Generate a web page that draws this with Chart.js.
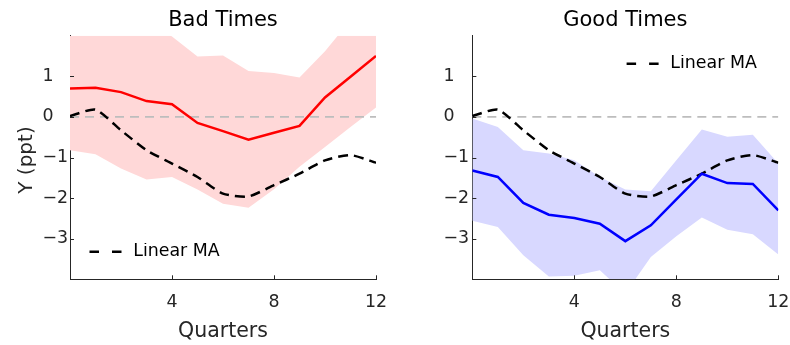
<!DOCTYPE html>
<html>
<head>
<meta charset="utf-8">
<script src="https://cdn.jsdelivr.net/npm/chart.js@4.4.1/dist/chart.umd.min.js"></script>
<style>
  html, body { margin: 0; padding: 0; background: #ffffff; }
  #wrap { position: relative; width: 790px; height: 345px; }
  canvas { position: absolute; top: 0; }
  #cBad { left: 0; }
  #cGood { left: 395px; }
</style>
</head>
<body>
<div id="wrap">
  <canvas id="cBad" width="395" height="345"></canvas>
  <canvas id="cGood" width="395" height="345"></canvas>
</div>
<script>
// Horizon (quarters after the shock)
const quarters = [0, 1, 2, 3, 4, 5, 6, 7, 8, 9, 10, 11, 12];

// Linear moving-average benchmark response (same in both regimes)
const linearMA = [0.02, 0.18, -0.33, -0.82, -1.15, -1.48, -1.89, -1.96, -1.68, -1.40, -1.07, -0.94, -1.13];

// Bad-times response and its confidence band
const badMean  = [0.70, 0.72, 0.61, 0.39, 0.31, -0.15, -0.35, -0.56, -0.39, -0.22, 0.48, 0.99, 1.50];
const badUpper = [2.60, 2.70, 2.60, 2.40, 1.98, 1.49, 1.51, 1.13, 1.08, 0.97, 1.62, 2.38, 2.90];
const badLower = [-0.82, -0.92, -1.27, -1.54, -1.48, -1.79, -2.14, -2.24, -1.78, -1.23, -0.74, -0.25, 0.23];

// Good-times response and its confidence band
const goodMean  = [-1.32, -1.48, -2.12, -2.41, -2.49, -2.63, -3.06, -2.67, -2.03, -1.40, -1.63, -1.65, -2.30];
const goodUpper = [-0.04, -0.25, -0.82, -0.90, -1.07, -1.48, -1.79, -1.83, -1.07, -0.31, -0.49, -0.44, -1.15];
const goodLower = [-2.56, -2.71, -3.41, -3.93, -3.91, -3.78, -4.35, -3.45, -2.94, -2.48, -2.78, -2.89, -3.39];

// Axis ticks
const xTickValues = [4, 8, 12];
const yTickValues = [-3, -2, -1, 0, 1];

const FONT = "'DejaVu Sans', 'Liberation Sans', Arial, sans-serif";
const INK = '#262626';
Chart.defaults.font.family = FONT;
Chart.defaults.color = INK;

const pts = vals => quarters.map((q, i) => ({ x: q, y: vals[i] }));
const signed = v => (v < 0 ? '\u2212' + Math.abs(v) : String(v));

// Short tick marks pointing into the plot, MATLAB style
const inwardTicks = {
  id: 'inwardTicks',
  afterDatasetsDraw(chart) {
    const { ctx, chartArea: a, scales: { x, y } } = chart;
    ctx.save();
    ctx.strokeStyle = INK;
    ctx.lineWidth = 1;
    ctx.beginPath();
    x.ticks.forEach(t => {
      const px = Math.round(x.getPixelForValue(t.value)) + 0.5;
      ctx.moveTo(px, a.bottom);
      ctx.lineTo(px, a.bottom - 4);
    });
    y.ticks.forEach(t => {
      const py = Math.round(y.getPixelForValue(t.value)) + 0.5;
      ctx.moveTo(a.left, py);
      ctx.lineTo(a.left + 4, py);
    });
    ctx.stroke();
    ctx.restore();
  }
};

// Places the legend box inside the plot area
const legendPlacement = {
  id: 'legendPlacement',
  afterLayout(chart, args, opts) {
    const lg = chart.legend;
    if (!lg) return;
    lg.left = opts.left;
    lg.top = opts.top;
    lg.right = opts.left + lg.width;
    lg.bottom = opts.top + lg.height;
  }
};

// Rotated y-axis title, kept clear of the left-aligned tick labels
const yAxisTitle = {
  id: 'yAxisTitle',
  afterDraw(chart, args, opts) {
    if (!opts.text) return;
    const { ctx, chartArea: a, scales: { y } } = chart;
    ctx.save();
    ctx.translate(y.left + opts.dx, (a.top + a.bottom) / 2 + opts.dy);
    ctx.rotate(-Math.PI / 2);
    ctx.font = `${opts.size}px ${FONT}`;
    ctx.fillStyle = INK;
    ctx.textAlign = 'center';
    ctx.textBaseline = 'alphabetic';
    ctx.fillText(opts.text, 0, 0);
    ctx.restore();
  }
};

function makePanel(canvas, cfg) {
  return new Chart(canvas, {
    type: 'line',
    data: {
      datasets: [
        {
          label: cfg.name, data: pts(cfg.mean),
          borderColor: cfg.lineColor, borderWidth: 2.5,
          pointRadius: 0, fill: false, tension: 0
        },
        {
          label: 'Linear MA', data: pts(linearMA),
          borderColor: '#000000', borderWidth: 2.5, borderDash: [10, 6],
          pointRadius: 0, fill: false, tension: 0.2, pointStyle: 'line'
        },
        {
          label: 'zero', data: pts(quarters.map(() => 0)),
          borderColor: '#bdbdbd', borderWidth: 1.8, borderDash: [9, 6],
          pointRadius: 0, fill: false
        },
        {
          label: 'upper', data: pts(cfg.upper),
          borderWidth: 0, borderColor: 'rgba(0,0,0,0)',
          backgroundColor: cfg.bandColor,
          pointRadius: 0, fill: '+1'
        },
        {
          label: 'lower', data: pts(cfg.lower),
          borderWidth: 0, borderColor: 'rgba(0,0,0,0)',
          pointRadius: 0, fill: false
        }
      ]
    },
    plugins: [inwardTicks, legendPlacement, yAxisTitle],
    options: {
      responsive: false,
      animation: false,
      events: [],
      devicePixelRatio: 1,
      layout: { padding: { left: cfg.padLeft, right: cfg.padRight, top: 0, bottom: 0 } },
      scales: {
        x: {
          type: 'linear', min: 0, max: 12,
          afterBuildTicks: s => { s.ticks = xTickValues.map(v => ({ value: v })); },
          afterFit: s => { s.height = 65.7; s.paddingLeft = 0; s.paddingRight = 0; },
          grid: { display: false, drawTicks: false },
          border: { display: true, color: INK, width: 1 },
          ticks: { font: { size: 17.4 }, color: INK, padding: 12.4, maxRotation: 0 },
          title: { display: true, text: 'Quarters', font: { size: 20.5 }, color: INK, padding: { top: 0, bottom: 1.0 } }
        },
        y: {
          type: 'linear', min: -4, max: 2,
          afterBuildTicks: s => { s.ticks = yTickValues.map(v => ({ value: v })); },
          afterFit: s => { s.width = cfg.axisWidth; s.paddingTop = 0; s.paddingBottom = 0; },
          grid: { display: false, drawTicks: false },
          border: { display: true, color: INK, width: 1 },
          ticks: { font: { size: 17.4 }, color: INK, crossAlign: 'far', padding: 0, callback: signed }
        }
      },
      plugins: {
        title: {
          display: true, text: cfg.title, fullSize: false,
          font: { size: 21, weight: 'normal' }, color: '#000000',
          padding: { top: 8.3, bottom: 2.2 }
        },
        legend: {
          display: true, position: 'chartArea', align: 'start',
          labels: {
            usePointStyle: true, pointStyleWidth: 38, padding: 0,
            font: { size: 17.4 }, color: '#000000',
            generateLabels(chart) {
              return Chart.defaults.plugins.legend.labels.generateLabels(chart)
                .filter(item => item.text === 'Linear MA')
                .map(item => Object.assign(item, {
                  pointStyle: 'line', lineDash: [9.5, 13, 9.5, 6], lineDashOffset: 35
                }));
            }
          }
        },
        tooltip: { enabled: false },
        legendPlacement: cfg.legendAt,
        yAxisTitle: cfg.yTitle
      }
    }
  });
}

makePanel(document.getElementById('cBad'), {
  title: 'Bad Times', name: 'Bad Times',
  mean: badMean, upper: badUpper, lower: badLower,
  lineColor: '#ff0000', bandColor: 'rgb(255,216,216)',
  padLeft: 42.5, padRight: 19, axisWidth: 27.5,
  legendAt: { left: 86.5, top: 243 },
  yTitle: { text: 'Y (ppt)', size: 20, dx: -10.8, dy: 2.5 }
});

makePanel(document.getElementById('cGood'), {
  title: 'Good Times', name: 'Good Times',
  mean: goodMean, upper: goodUpper, lower: goodLower,
  lineColor: '#0000ff', bandColor: 'rgb(216,216,255)',
  padLeft: 48.5, padRight: 11.67, axisWidth: 28.83,
  legendAt: { left: 228.6, top: 55 },
  yTitle: { text: '' }
});
</script>
</body>
</html>
